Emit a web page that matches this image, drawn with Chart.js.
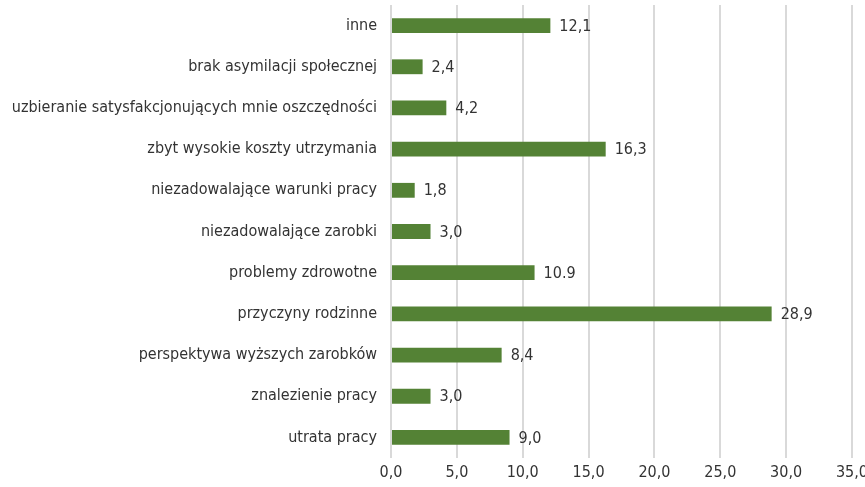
<!DOCTYPE html>
<html>
<head>
<meta charset="utf-8">
<script src="https://cdn.jsdelivr.net/npm/chart.js@4/dist/chart.umd.min.js"></script>
<style>
    html, body { margin: 0; padding: 0; background: #fff; overflow: hidden; }
    #wrap { width: 873px; height: 487px; }
</style>
</head>
<body>
<div id="wrap"><canvas id="wykres"></canvas></div>
<script>
// dane z wykresu (od góry do dołu)
const kategorie = [
    'inne',
    'brak asymilacji społecznej',
    'uzbieranie satysfakcjonujących mnie oszczędności',
    'zbyt wysokie koszty utrzymania',
    'niezadowalające warunki pracy',
    'niezadowalające zarobki',
    'problemy zdrowotne',
    'przyczyny rodzinne',
    'perspektywa wyższych zarobków',
    'znalezienie pracy',
    'utrata pracy'
];
const wartosci = [12.1, 2.4, 4.2, 16.3, 1.8, 3.0, 10.9, 28.9, 8.4, 3.0, 9.0];
const etykiety = ['12,1', '2,4', '4,2', '16,3', '1,8', '3,0', '10.9', '28,9', '8,4', '3,0', '9,0'];
const osX = { min: 0, max: 35, krok: 5 };

const czcionka = '"DejaVu Sans Condensed", "Liberation Sans Narrow", sans-serif';
const kolorTekstu = '#333333';

// etykiety wartości przy słupkach
const etykietyPlugin = {
    id: 'etykietyWartosci',
    afterDatasetsDraw(chart) {
        const ctx = chart.ctx;
        const meta = chart.getDatasetMeta(0);
        ctx.save();
        ctx.font = '16px ' + czcionka;
        ctx.fillStyle = kolorTekstu;
        ctx.textAlign = 'left';
        ctx.textBaseline = 'middle';
        meta.data.forEach(function (bar, i) {
            ctx.fillText(etykiety[i], bar.x + 9, bar.y + 1);
        });
        ctx.restore();
    }
};

window.addEventListener('load', function () {
    const ctx = document.getElementById('wykres');
    new Chart(ctx, {
        type: 'bar',
        data: {
            labels: kategorie,
            datasets: [{
                data: wartosci,
                backgroundColor: '#548235',
                borderWidth: 0,
                barPercentage: 0.36,
                categoryPercentage: 1
            }]
        },
        options: {
            indexAxis: 'y',
            responsive: true,
            maintainAspectRatio: false,
            animation: false,
            layout: {
                padding: { top: 5, bottom: 0, left: 0, right: 0 }
            },
            plugins: {
                legend: { display: false },
                tooltip: { enabled: false }
            },
            scales: {
                x: {
                    min: osX.min,
                    max: osX.max,
                    ticks: {
                        stepSize: osX.krok,
                        color: kolorTekstu,
                        font: { family: czcionka, size: 16 },
                        padding: 5,
                        callback: function (v) {
                            return v.toFixed(1).replace('.', ',');
                        }
                    },
                    grid: {
                        color: '#d9d9d9',
                        lineWidth: 2,
                        drawTicks: false
                    },
                    border: { display: false },
                    afterFit: function (scale) {
                        scale.height = 29;
                    }
                },
                y: {
                    ticks: {
                        color: kolorTekstu,
                        font: { family: czcionka, size: 16 },
                        padding: 6
                    },
                    grid: { display: false },
                    border: { display: false },
                    afterFit: function (scale) {
                        scale.width = 391;
                        scale.paddingTop = 0;
                        scale.paddingBottom = 0;
                    }
                }
            }
        },
        plugins: [etykietyPlugin]
    });
});
</script>
</body>
</html>
